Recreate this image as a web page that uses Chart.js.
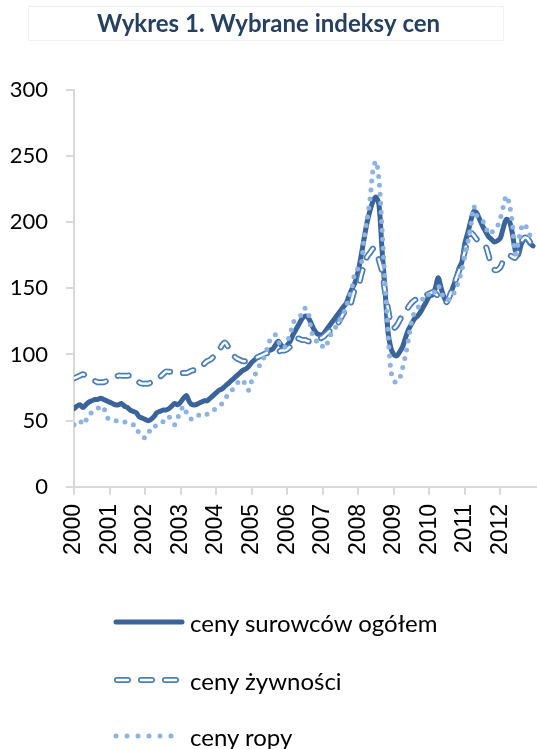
<!DOCTYPE html>
<html>
<head>
<meta charset="utf-8">
<script src="https://cdn.jsdelivr.net/npm/chart.js@4/dist/chart.umd.min.js"></script>
<style>
  body { margin: 0; background: #fff; }
  #wrap { position: relative; width: 537px; height: 575px; }
  .legend { position: absolute; left: 0; width: 537px; height: 749px; top: 0; pointer-events: none; }
  .row { position: absolute; left: 113px; height: 30px; display: flex; align-items: center;
         font-family: Lato, sans-serif; font-size: 24px; color: #000; white-space: nowrap; }
  .row svg { margin-right: 5px; }
</style>
</head>
<body>
<div id="wrap"><canvas id="chart"></canvas></div>
<div class="legend">
  <div class="row" style="top:607px">
    <svg width="72" height="10"><line x1="3" y1="5" x2="69" y2="5" stroke="#3A6399" stroke-width="5" stroke-linecap="round"/></svg>ceny surowców ogółem
  </div>
  <div class="row" style="top:665px">
    <svg width="72" height="10">
      <line x1="4" y1="5" x2="68" y2="5" stroke="#4A7EBB" stroke-width="6" stroke-linecap="round" stroke-dasharray="11 13"/>
      <line x1="4" y1="5" x2="68" y2="5" stroke="#fff" stroke-width="2.5" stroke-linecap="round" stroke-dasharray="11 13"/>
    </svg>ceny żywności
  </div>
  <div class="row" style="top:721px">
    <svg width="72" height="10"><line x1="3" y1="5" x2="69" y2="5" stroke="#8DB3E2" stroke-width="5" stroke-linecap="round" stroke-dasharray="0 11"/></svg>ceny ropy
  </div>
</div>
<script>
// monthly values, Jan 2000 - Dec 2012 (12 per row)
var ogolem = [
  59, 61, 62, 60, 62, 64, 65, 66, 66, 67, 66, 65,
  64, 63, 62, 62, 63, 61, 60, 58, 57, 56, 53, 52,
  51, 50, 51, 53, 56, 57, 58, 58, 59, 61, 63, 62,
  64, 67, 69, 64, 62, 62, 63, 64, 65, 65, 67, 69,
  71, 73, 74, 76, 78, 80, 82, 84, 86, 88, 89, 91,
  94, 96, 98, 99, 100, 101, 103, 104, 107, 110, 107, 105,
  107, 110, 115, 119, 123, 127, 129, 128, 124, 119, 116, 115,
  115, 118, 121, 124, 127, 130, 133, 136, 139, 145, 150, 155,
  163, 175, 188, 200, 209, 216, 219, 213, 180, 150, 118, 105,
  100, 99, 102, 106, 113, 119, 123, 127, 129, 132, 136, 140,
  144, 145, 150, 158, 150, 143, 140, 145, 151, 157, 165, 170,
  184, 192, 201, 208, 207, 202, 197, 193, 189, 187, 185, 186,
  188, 196, 202, 201, 192, 179, 175, 183, 187, 187, 184, 182
];

var zywnosc = [
  82, 83, 84, 85, 84, 83, 81, 80, 79, 79, 79, 80,
  81, 82, 83, 84, 84, 84, 84, 84, 82, 81, 79, 78,
  78, 78, 79, 80, 81, 83, 85, 87, 87, 87, 87, 87,
  86, 86, 86, 87, 88, 88, 89, 91, 93, 95, 96, 98,
  100, 103, 107, 109, 106, 103, 99, 97, 96, 95, 95, 96,
  96, 97, 98, 99, 100, 101, 101, 101, 102, 102, 103, 103,
  104, 106, 109, 112, 112, 111, 111, 110, 110, 110, 111, 112,
  113, 115, 117, 119, 120, 123, 127, 131, 133, 135, 143, 150,
  152, 160, 168, 174, 177, 180, 179, 171, 163, 148, 135, 124,
  120, 122, 126, 130, 133, 136, 139, 141, 142, 143, 144, 145,
  146, 147, 146, 144, 141, 139, 140, 145, 151, 157, 163, 170,
  178, 188, 192, 190, 187, 185, 184, 182, 175, 167, 164, 164,
  166, 171, 174, 175, 174, 173, 178, 185, 188, 188, 185, 182
];

var ropa = [
  47, 48, 50, 47, 50, 55, 56, 57, 59, 61, 60, 53,
  51, 50, 50, 50, 49, 49, 49, 48, 47, 46, 40, 38,
  37, 39, 45, 46, 46, 47, 49, 52, 53, 50, 47, 52,
  57, 61, 56, 52, 51, 52, 54, 55, 54, 55, 56, 58,
  59, 61, 63, 66, 70, 72, 75, 78, 80, 81, 76, 73,
  80, 84, 89, 93, 97, 103, 110, 114, 115, 110, 106, 105,
  110, 115, 124, 127, 129, 130, 135, 133, 120, 112, 110, 110,
  106, 105, 112, 116, 119, 124, 127, 131, 137, 144, 152, 163,
  165, 168, 188, 202, 218, 240, 246, 232, 196, 156, 118, 88,
  80, 79, 82, 90, 100, 112, 125, 132, 135, 138, 143, 146,
  145, 144, 149, 152, 147, 142, 141, 142, 145, 150, 156, 164,
  175, 185, 197, 212, 205, 203, 201, 197, 191, 192, 195, 197,
  203, 212, 220, 214, 200, 176, 184, 195, 199, 195, 190, 187
];

var startYear = 2000;
var yTicks = [0, 50, 100, 150, 200, 250, 300];

// month index -> decimal year
function toPoints(vals) {
    return vals.map(function (v, i) { return { x: startYear + i / 12, y: v }; });
}

var titleBox = {
    id: 'titleBox',
    beforeDraw: function (chart) {
        var c = chart.ctx;
        c.save();
        c.strokeStyle = '#f0f0f0';
        c.lineWidth = 1;
        c.strokeRect(28.5, 6.5, 475, 34);
        c.restore();
    }
};

var foodDash = [11, 13];

var config = {
    type: 'line',
    data: {
        datasets: [{
            label: 'ceny ropy',
            data: toPoints(ropa),
            borderColor: '#8DB3E2',
            borderWidth: 5,
            borderDash: [0, 9],
            borderCapStyle: 'round',
            order: 1
        }, {
            label: 'ceny żywności (wnętrze)',
            data: toPoints(zywnosc),
            borderColor: '#ffffff',
            borderWidth: 2.5,
            borderDash: foodDash,
            borderCapStyle: 'round',
            order: 2
        }, {
            label: 'ceny żywności',
            data: toPoints(zywnosc),
            borderColor: '#4A7EBB',
            borderWidth: 6,
            borderDash: foodDash,
            borderCapStyle: 'round',
            order: 3
        }, {
            label: 'ceny surowców ogółem',
            data: toPoints(ogolem),
            borderColor: '#3A6399',
            borderWidth: 5,
            borderCapStyle: 'round',
            order: 4
        }]
    },
    options: {
        responsive: true,
        maintainAspectRatio: false,
        animation: false,
        elements: {
            point: { radius: 0, hoverRadius: 0 },
            line: { tension: 0.3, borderJoinStyle: 'round' }
        },
        layout: { padding: { left: 0, right: 0, top: 0, bottom: 11 } },
        plugins: {
            legend: { display: false },
            tooltip: { enabled: false },
            title: {
                display: true,
                text: 'Wykres 1. Wybrane indeksy cen',
                color: '#254061',
                font: { family: 'Lato', size: 24, weight: 'bold' },
                padding: { top: 10, bottom: 51 }
            }
        },
        scales: {
            x: {
                type: 'linear',
                min: 2000,
                max: 2013,
                afterBuildTicks: function (axis) {
                    axis.ticks = axis.ticks.filter(function (t) { return t.value < 2013; });
                },
                ticks: {
                    stepSize: 1,
                    autoSkip: false,
                    minRotation: 90,
                    maxRotation: 90,
                    padding: 9,
                    color: '#000',
                    font: { family: 'Liberation Sans', size: 23 },
                    callback: function (v) { return String(v); }
                },
                grid: { drawOnChartArea: false, drawTicks: true, tickLength: 8, color: '#d9d9d9', lineWidth: 2 },
                border: { color: '#d9d9d9', width: 2 }
            },
            y: {
                min: 0,
                max: 300,
                afterBuildTicks: function (axis) {
                    axis.ticks = yTicks.map(function (v) { return { value: v }; });
                },
                afterFit: function (axis) { axis.width = 74; },
                ticks: {
                    padding: 18,
                    color: '#000',
                    font: { family: 'Lato', size: 22 }
                },
                grid: { drawOnChartArea: false, drawTicks: true, tickLength: 8, color: '#d9d9d9', lineWidth: 2 },
                border: { color: '#d9d9d9', width: 2 }
            }
        }
    },
    plugins: [titleBox]
};

window.onload = function () {
    var ctx = document.getElementById('chart').getContext('2d');
    window.myChart = new Chart(ctx, config);
};
</script>
</body>
</html>
